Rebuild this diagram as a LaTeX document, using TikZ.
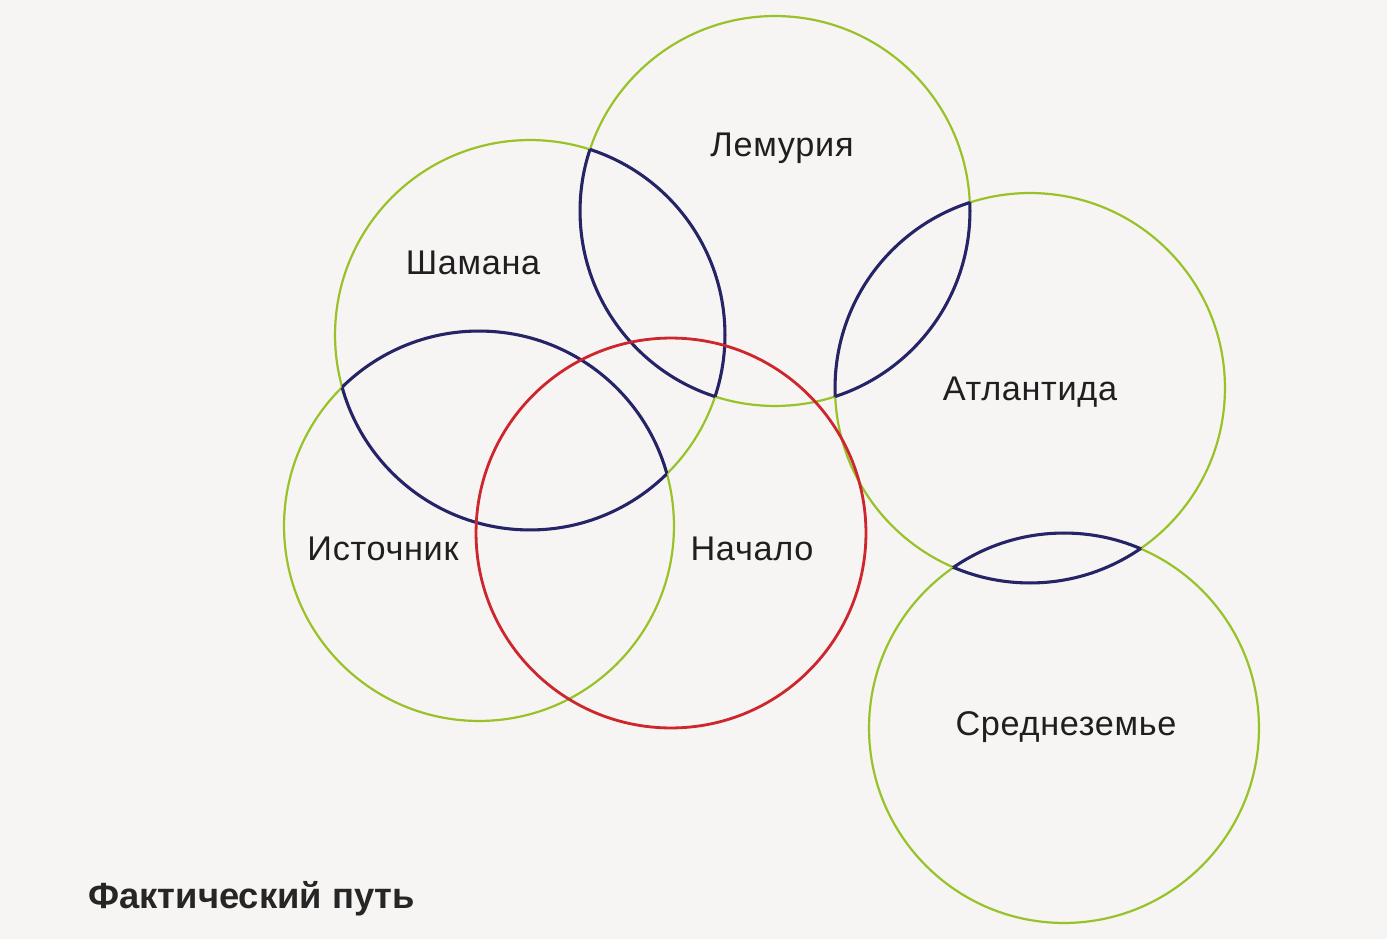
\documentclass[tikz,border=0pt]{standalone}
\usepackage{fontspec}
\setmainfont{Liberation Sans}
\newfontfamily\lblfont{Liberation Sans}[LetterSpace=2]
\definecolor{bgc}{RGB}{246,245,243}
\definecolor{lgreen}{RGB}{152,194,40}
\definecolor{navy}{RGB}{38,36,105}
\definecolor{cred}{RGB}{205,38,45}
\begin{document}
\begin{tikzpicture}[x=0.02cm,y=-0.02cm,
  ring/.style={draw=lgreen,line width=1.25pt},
  lensline/.style={draw=navy,line width=1.75pt},
  redring/.style={draw=cred,line width=1.6pt},
  lbl/.style={font=\lblfont\fontsize{19.5}{23}\selectfont,text=black!88,anchor=base,inner sep=0pt}]
\fill[bgc] (0,0) rectangle (1387,939);
\useasboundingbox (0,0) rectangle (1387,939);
\def\R{3.9cm}
\coordinate (lem) at (775,211);
\coordinate (sham) at (530,335);
\coordinate (ist) at (479,526);
\coordinate (nach) at (671,533);
\coordinate (atl) at (1030,388);
\coordinate (sred) at (1064,728);
% green circles
\foreach \c in {lem,sham,ist,atl,sred}{\draw[ring] (\c) circle (\R);}
% lenses
\foreach \a/\b in {sham/lem,sham/ist,lem/atl,atl/sred}{
  \begin{scope}\clip (\b) circle (\R); \draw[lensline] (\a) circle (\R);\end{scope}
  \begin{scope}\clip (\a) circle (\R); \draw[lensline] (\b) circle (\R);\end{scope}
}
% red circle
\draw[redring] (nach) circle (\R);
% labels
\node[lbl] (tlem) at (782,157) {Лемурия};
\node[lbl] (tsham) at (473,275) {Шамана};
\node[lbl] (tist) at (383,560) {Источник};
\node[lbl] (tnach) at (752,560) {Начало};
\node[lbl] (tatl) at (1030,400) {Атлантида};
\node[lbl] (tsred) at (1066,735) {Среднеземье};
\node[font=\bfseries\fontsize{20.7}{24}\selectfont,text=black!85,anchor=base west,inner sep=0pt] (title) at (88,908) {Фактический путь};
\end{tikzpicture}
\end{document}
